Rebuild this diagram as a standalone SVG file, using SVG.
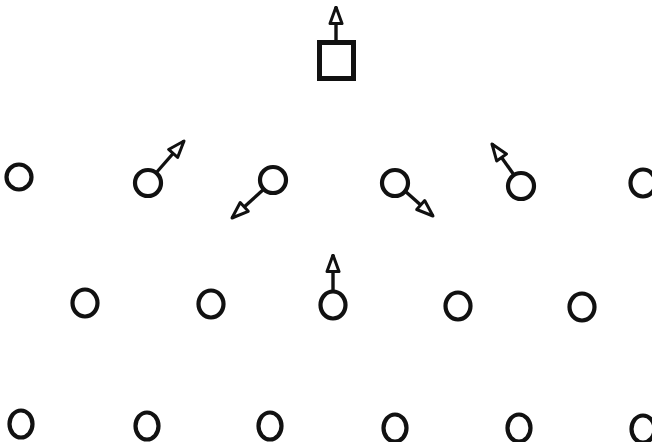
<svg xmlns="http://www.w3.org/2000/svg" width="652" height="442" viewBox="0 0 652 442">
<style>
.n{fill:none;stroke:#111;stroke-width:4.2}
.c{stroke:#111;stroke-width:3.4;fill:none}
</style>
<defs>
<marker id="ah" viewBox="0 0 20 16" refX="18.5" refY="8" markerWidth="20" markerHeight="16" markerUnits="userSpaceOnUse" orient="auto">
<path d="M2,2 L18.5,8 L2,14 Z" fill="#fff" stroke="#111" stroke-width="3" stroke-linejoin="round"/>
</marker>
</defs>
<rect width="652" height="442" fill="#fff"/>
<g id="square"><rect class="n" x="319.5" y="42.5" width="34" height="36" style="stroke-width:5"/></g>
<g id="r1c1"><ellipse class="n" cx="19" cy="177" rx="12.5" ry="12.5"/></g>
<g id="r1c2"><ellipse class="n" cx="148" cy="183" rx="13" ry="13"/></g>
<g id="r1c3"><ellipse class="n" cx="273" cy="180" rx="13" ry="13"/></g>
<g id="r1c4"><ellipse class="n" cx="395" cy="183" rx="13" ry="13"/></g>
<g id="r1c5"><ellipse class="n" cx="521" cy="186" rx="13" ry="13"/></g>
<g id="r1c6"><ellipse class="n" cx="643" cy="183" rx="12.5" ry="13.5"/></g>
<g id="r2c1"><ellipse class="n" cx="85" cy="303" rx="12.5" ry="13.5"/></g>
<g id="r2c2"><ellipse class="n" cx="211" cy="304" rx="12.5" ry="13.5"/></g>
<g id="r2c3"><ellipse class="n" cx="333" cy="305" rx="12.5" ry="13.5"/></g>
<g id="r2c4"><ellipse class="n" cx="458" cy="306" rx="12.5" ry="13.5"/></g>
<g id="r2c5"><ellipse class="n" cx="582" cy="307" rx="12.5" ry="13.5"/></g>
<g id="r3c1"><ellipse class="n" cx="21" cy="424" rx="11.5" ry="13.5"/></g>
<g id="r3c2"><ellipse class="n" cx="147" cy="426" rx="11.5" ry="13.5"/></g>
<g id="r3c3"><ellipse class="n" cx="270" cy="426" rx="11.5" ry="13.5"/></g>
<g id="r3c4"><ellipse class="n" cx="395" cy="428" rx="11.5" ry="13.5"/></g>
<g id="r3c5"><ellipse class="n" cx="519" cy="428" rx="11.5" ry="13.5"/></g>
<g id="r3c6"><ellipse class="n" cx="643" cy="429" rx="11.5" ry="13.5"/></g>
<g id="connectors">
<line class="c" x1="336" y1="40" x2="336" y2="7" marker-end="url(#ah)"/>
<line class="c" x1="156" y1="173" x2="184" y2="141" marker-end="url(#ah)"/>
<line class="c" x1="264" y1="189" x2="232" y2="218" marker-end="url(#ah)"/>
<line class="c" x1="405" y1="191" x2="433" y2="216" marker-end="url(#ah)"/>
<line class="c" x1="514" y1="175" x2="492" y2="144" marker-end="url(#ah)"/>
<line class="c" x1="333" y1="291" x2="333" y2="255" marker-end="url(#ah)"/>
</g>
</svg>
